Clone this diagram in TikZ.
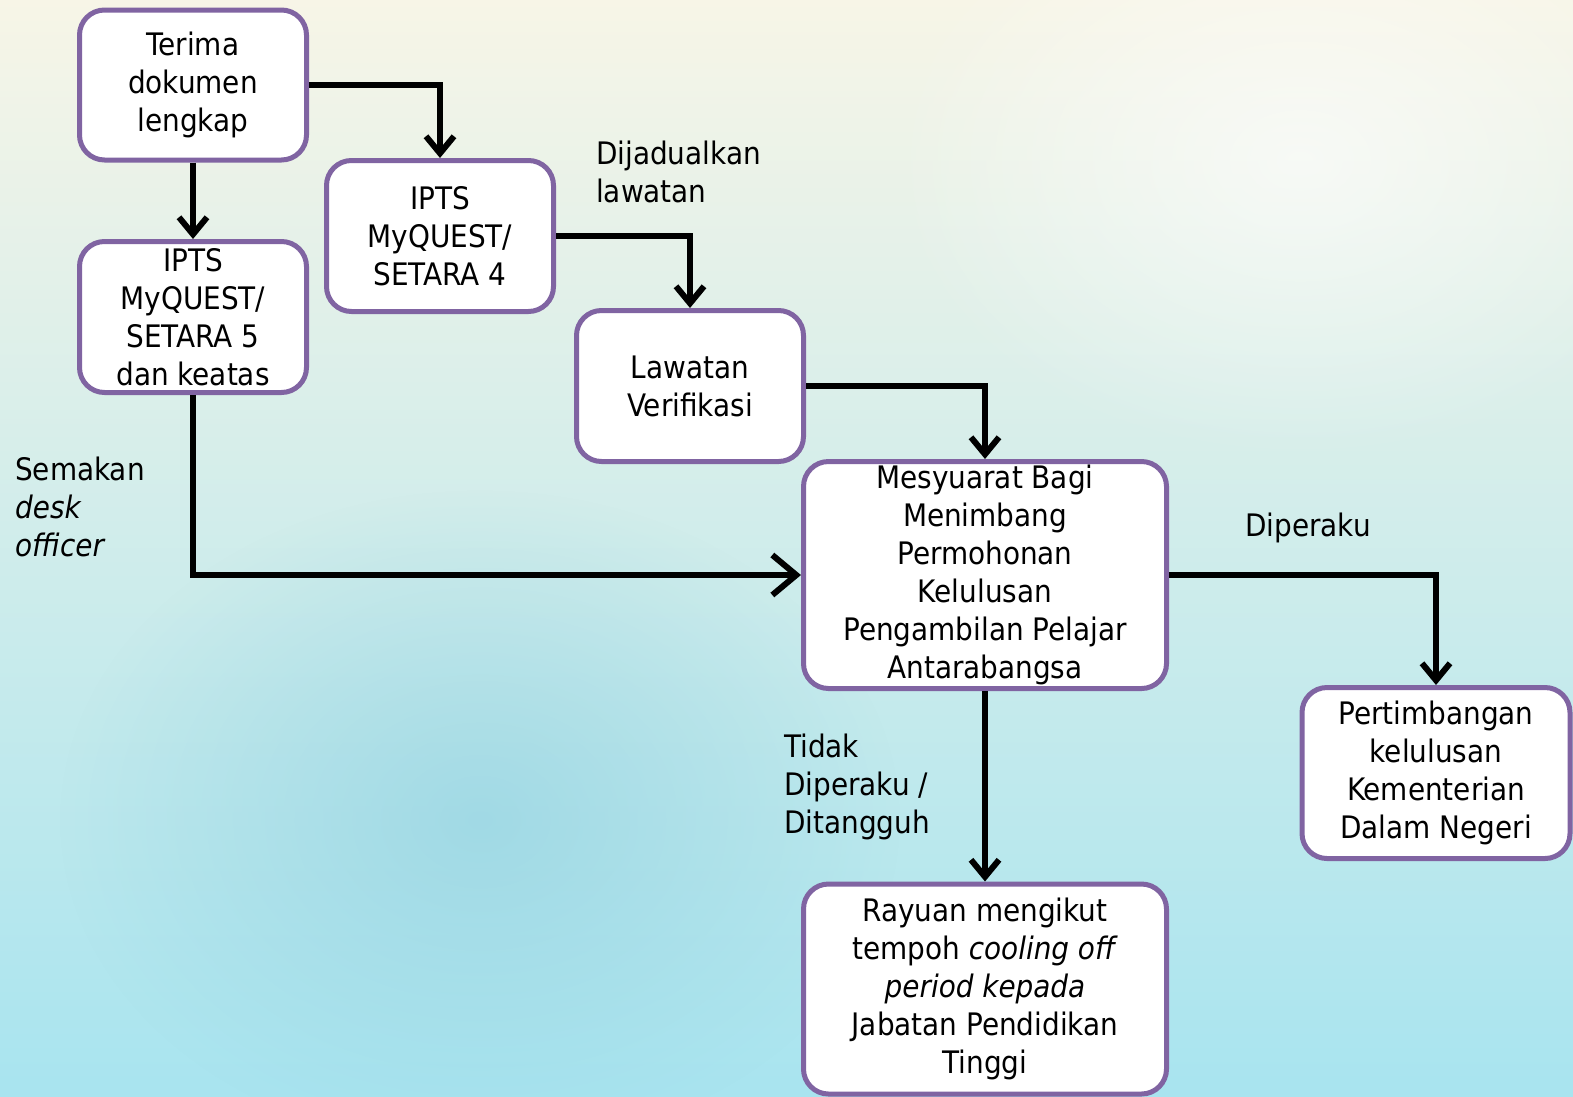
\documentclass[tikz,border=0pt]{standalone}
\usepackage{fontspec}
\setmainfont{DejaVu Sans Condensed}
\usepackage{tikz}
\usetikzlibrary{arrows.meta, fadings}
\definecolor{boxline}{HTML}{8064A2}
\definecolor{bgtop}{HTML}{F7F5E7}
\definecolor{bgmid}{HTML}{DDEEEA}
\definecolor{bgbot}{HTML}{A8E4EF}
\definecolor{bgblob}{HTML}{8FD0E0}
\tikzfading[name=softdisc, inner color=transparent!0, outer color=transparent!100]

\begin{document}
\begin{tikzpicture}[x=1pt, y=-1pt,
  box/.style={draw=boxline, line width=5pt, fill=white, rounded corners=25pt,
    align=center, inner sep=0pt, font=\fontsize{31}{38}\selectfont},
  link/.style={line width=6pt, -{Straight Barb[length=17pt, width=28pt]}},
  biglink/.style={line width=6pt, -{Straight Barb[length=24pt, width=40pt]}},
  lbl/.style={anchor=west, align=left, inner sep=0pt, font=\fontsize{31}{38}\selectfont}]

% background
\useasboundingbox (0,0) rectangle (1573,1096);
\begin{scope}
\clip (0,0) rectangle (1573,1096);
\shade[top color=bgtop, middle color=bgmid, bottom color=bgbot] (0,0) rectangle (1573,1096);
\fill[bgblob, opacity=0.6, path fading=softdisc] (480,820) ellipse (420 and 330);
\fill[white, opacity=0.6, path fading=softdisc] (1300,160) ellipse (420 and 300);
\end{scope}

\node[box, minimum width=227, minimum height=150] (terima) at (193,85) {Terima\\dokumen\\lengkap};
\node[box, minimum width=227, minimum height=151] (ipts5) at (193,317) {IPTS\\MyQUEST/\\SETARA 5\\dan keatas};
\node[box, minimum width=227, minimum height=151] (ipts4) at (440,236) {IPTS\\MyQUEST/\\SETARA 4};
\node[box, minimum width=227, minimum height=151] (lawatan) at (690,386) {Lawatan\\Verifikasi};
\node[box, minimum width=363, minimum height=227] (mesyuarat) at (985,575) {Mesyuarat Bagi\\Menimbang\\Permohonan\\Kelulusan\\Pengambilan Pelajar\\Antarabangsa};
\node[box, minimum width=268, minimum height=171] (pertimbangan) at (1436,773) {Pertimbangan\\kelulusan\\Kementerian\\Dalam Negeri};
\node[box, minimum width=363, minimum height=210] (rayuan) at (985,989) {Rayuan mengikut\\tempoh \textit{cooling off}\\\textit{period kepada}\\Jabatan Pendidikan\\Tinggi};

\node[lbl] (jadual) at (596,172) {Dijadualkan\\lawatan};
\node[lbl] (semakan) at (15,507) {Semakan\\\textit{desk}\\\textit{officer}};
\node[lbl] (diperaku) at (1245,528) {Diperaku};
\node[lbl] (tidak) at (784,787) {Tidak\\Diperaku /\\Ditangguh};

\draw[link] (terima.east) -| (ipts4.north);
\draw[link] (terima.south) -- (ipts5.north);
\draw[link] (ipts4.east) -| (lawatan.north);
\draw[link] (lawatan.east) -| (mesyuarat.north);
\draw[biglink] (ipts5.south) |- (mesyuarat.west);
\draw[link] (mesyuarat.east) -| (pertimbangan.north);
\draw[link] (mesyuarat.south) -- (rayuan.north);
\end{tikzpicture}
\end{document}
